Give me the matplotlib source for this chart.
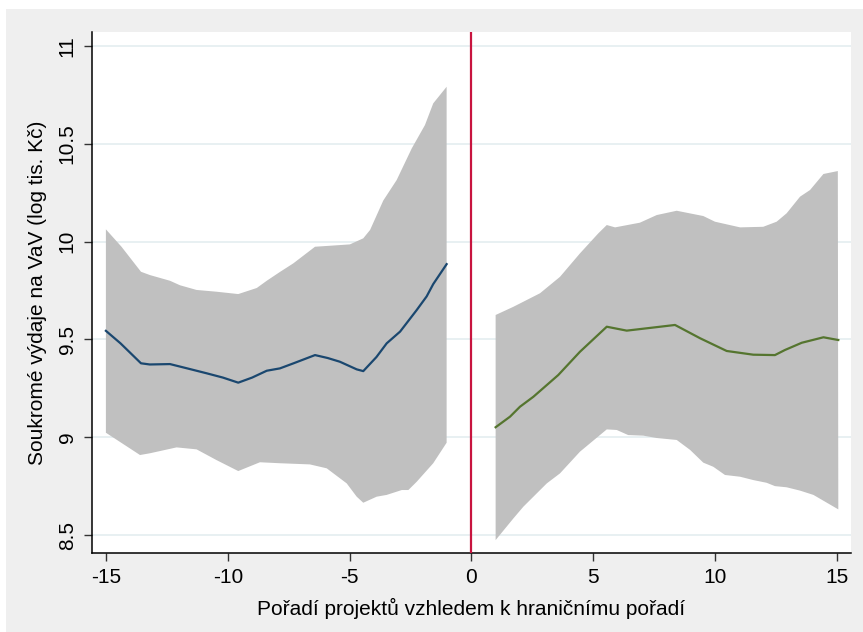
import matplotlib
matplotlib.use("Agg")
import matplotlib.pyplot as plt
from matplotlib.patches import Rectangle

plt.rcParams['font.family'] = ['Liberation Sans', 'DejaVu Sans']

# Left side (before threshold)
left_line_x = [-15, -14.4, -13.56, -13.2, -12.37, -11.6, -10.87, -10.2, -9.57, -9.0, -8.40, -7.86, -7.3, -6.42, -5.9, -5.40, -4.71, -4.44, -3.9, -3.48, -2.93, -2.25, -1.84, -1.57, -1.02]
left_line_y = [9.544, 9.48, 9.378, 9.372, 9.374, 9.35, 9.327, 9.305, 9.279, 9.305, 9.34, 9.352, 9.378, 9.42, 9.405, 9.386, 9.347, 9.338, 9.41, 9.48, 9.54, 9.65, 9.72, 9.783, 9.885]

left_upper_x = [-15, -14.36, -13.56, -13.19, -12.37, -11.96, -11.28, -10.46, -9.57, -8.81, -8.40, -7.86, -7.31, -6.42, -5.81, -4.99, -4.44, -4.16, -3.62, -3.07, -2.45, -1.91, -1.57, -1.02]
left_upper_y = [10.063, 9.974, 9.846, 9.829, 9.80, 9.777, 9.753, 9.744, 9.732, 9.763, 9.80, 9.845, 9.889, 9.974, 9.979, 9.986, 10.017, 10.06, 10.21, 10.315, 10.477, 10.596, 10.707, 10.792]

left_lower_x = [-15, -13.6, -13.19, -12.10, -11.28, -10.46, -9.57, -8.68, -7.86, -6.63, -5.94, -5.12, -4.71, -4.44, -3.89, -3.48, -2.86, -2.59, -2.25, -1.57, -1.02]
left_lower_y = [9.023, 8.909, 8.918, 8.948, 8.938, 8.883, 8.827, 8.872, 8.867, 8.861, 8.841, 8.764, 8.696, 8.665, 8.696, 8.705, 8.73, 8.73, 8.772, 8.867, 8.972]

# Right side (after threshold)
right_line_x = [0.99, 1.58, 1.99, 2.54, 3.56, 4.45, 5.55, 6.37, 7.74, 8.35, 9.38, 10.47, 11.56, 12.45, 12.86, 13.55, 14.44, 15.05]
right_line_y = [9.051, 9.105, 9.156, 9.207, 9.318, 9.437, 9.565, 9.545, 9.565, 9.574, 9.506, 9.441, 9.422, 9.42, 9.446, 9.483, 9.511, 9.497]

right_upper_x = [0.99, 1.72, 2.81, 3.63, 4.45, 5.20, 5.55, 5.89, 6.91, 7.60, 8.42, 9.51, 9.99, 11.02, 11.97, 12.52, 12.93, 13.48, 13.89, 14.44, 15.03]
right_upper_y = [9.625, 9.667, 9.736, 9.82, 9.94, 10.042, 10.085, 10.073, 10.097, 10.136, 10.158, 10.131, 10.102, 10.073, 10.076, 10.102, 10.145, 10.23, 10.264, 10.346, 10.361]

right_lower_x = [0.99, 1.72, 2.13, 3.09, 3.63, 4.45, 5.55, 5.96, 6.43, 7.05, 7.60, 8.42, 8.97, 9.51, 9.92, 10.40, 11.02, 11.56, 12.11, 12.45, 12.93, 13.48, 14.03, 15.05]
right_lower_y = [8.474, 8.585, 8.645, 8.764, 8.815, 8.926, 9.04, 9.037, 9.011, 9.008, 8.996, 8.986, 8.935, 8.87, 8.849, 8.807, 8.798, 8.781, 8.767, 8.75, 8.744, 8.727, 8.705, 8.631]

x_ticks = [-15, -10, -5, 0, 5, 10, 15]
y_ticks = [8.5, 9, 9.5, 10, 10.5, 11]
y_tick_labels = ['8.5', '9', '9.5', '10', '10.5', '11']
threshold = 0

xlabel = 'Pořadí projektů vzhledem k hraničnímu pořadí'
ylabel = 'Soukromé výdaje na VaV (log tis. Kč)'

fig = plt.figure(figsize=(8.63, 6.32), dpi=100, facecolor='#EFEFEF')
# thin white strips on the left and top edge
fig.add_artist(Rectangle((0, 0), 6 / 863, 1, transform=fig.transFigure,
                         facecolor='white', edgecolor='none', zorder=-10))
fig.add_artist(Rectangle((0, 1 - 9 / 632), 1, 9 / 632, transform=fig.transFigure,
                         facecolor='white', edgecolor='none', zorder=-10))

ax = fig.add_axes([92 / 863, 1 - 553 / 632, (850.5 - 92) / 863, (553 - 32) / 632])
ax.set_facecolor('white')

band_color = '#C0C0C0'
ax.fill(left_upper_x + left_lower_x[::-1], left_upper_y + left_lower_y[::-1],
        color=band_color, linewidth=0, zorder=2)
ax.fill(right_upper_x + right_lower_x[::-1], right_upper_y + right_lower_y[::-1],
        color=band_color, linewidth=0, zorder=2)
ax.plot(left_line_x, left_line_y, color='#1A476F', linewidth=1.6, zorder=3)
ax.plot(right_line_x, right_line_y, color='#55752F', linewidth=1.6, zorder=3)
ax.axvline(threshold, color='#C8143F', linewidth=1.6, zorder=4)

ax.set_xlim(-15.57, 15.55)
ax.set_ylim(8.408, 11.072)
ax.set_xticks(x_ticks)
ax.set_xticklabels([str(t) for t in x_ticks])
ax.set_yticks(y_ticks)
ax.set_yticklabels(y_tick_labels, rotation=90, va='center')

ax.grid(axis='y', color='#E4EEF0', linewidth=1.2, zorder=1)
ax.set_axisbelow(True)

for side in ['top', 'right']:
    ax.spines[side].set_visible(False)
for side in ['left', 'bottom']:
    ax.spines[side].set_linewidth(1.1)
    ax.spines[side].set_color('black')

ax.tick_params(axis='both', direction='out', length=6, width=1.0, color='#333333',
               labelsize=15, labelcolor='black')
ax.tick_params(axis='x', pad=5)
ax.tick_params(axis='y', pad=5)

ax.set_xlabel(xlabel, fontsize=15, labelpad=8)
ax.set_ylabel(ylabel, fontsize=15, labelpad=8)

fig.savefig('out.png', dpi=100, facecolor=fig.get_facecolor())
